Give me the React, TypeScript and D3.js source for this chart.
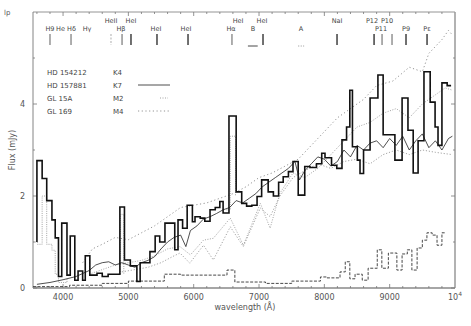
import React, { useEffect, useRef } from 'react';
import * as d3 from 'd3';

const W = 471;
const H = 326;

// HD 154212 (K4) - heavy step histogram: [bin start (A), flux (mJy)]
const k4Bins: [number, number][] = [
  [3600, 2.77], [3680, 2.38], [3750, 1.9], [3830, 1.48], [3880, 1.09], [3930, 0.25],
  [3980, 1.41], [4060, 0.28], [4110, 1.13], [4180, 0.17], [4230, 0.37], [4300, 0.17],
  [4340, 0.7], [4410, 0.28], [4520, 0.32], [4600, 0.25], [4690, 0.3], [4870, 1.76],
  [4940, 0.61], [5030, 0.48], [5130, 0.14], [5180, 0.55], [5330, 0.79], [5410, 1.13],
  [5480, 1.0], [5560, 1.41], [5710, 0.83], [5760, 1.48], [5830, 1.3], [5900, 1.8],
  [5980, 1.44], [6020, 1.55], [6100, 1.52], [6170, 1.45], [6250, 1.7], [6330, 1.75],
  [6400, 1.88], [6450, 1.63], [6540, 3.74], [6650, 2.09], [6735, 1.84], [6810, 1.78],
  [6890, 1.8], [6970, 1.99], [7040, 2.35], [7140, 2.09], [7220, 2.0], [7300, 2.3],
  [7370, 2.42], [7450, 2.53], [7520, 2.75], [7600, 2.02], [7700, 2.64], [7780, 2.62],
  [7880, 2.7], [7960, 2.93], [8010, 2.83], [8110, 2.67], [8190, 2.6], [8270, 3.22],
  [8340, 3.5], [8390, 4.3], [8430, 3.07], [8505, 2.78], [8546, 2.49], [8600, 3.0],
  [8700, 4.13], [8820, 4.63], [8900, 3.33], [9080, 2.78], [9190, 4.13], [9280, 3.43],
  [9360, 2.5], [9435, 3.2], [9525, 4.7], [9620, 4.04], [9695, 3.5], [9740, 3.1],
  [9800, 4.46], [9880, 4.4],
];
const k4End = 9940;

// second, fainter histogram (dotted) that shows inside the spikes
const grayBins: [number, number][] = [
  [3540, 1.0], [3610, 0.95], [3680, 2.0], [3750, 0.95], [3830, 0.82], [3880, 0.3],
  [3930, 0.12], [4060, 0.2], [4180, NaN],
  [4850, 0.3], [4880, 1.6], [4930, 0.3], [4980, NaN],
  [6500, 1.7], [6560, 3.3], [6640, 2.0], [6700, NaN],
];

// bottom dashed histogram
const lowBins: [number, number][] = [
  [3540, 0.03], [4100, 0.06], [4600, 0.1], [5000, 0.15], [5550, 0.3], [5800, 0.28],
  [6510, 0.39], [6630, 0.13], [7100, 0.1], [7500, 0.15], [7940, 0.24], [8040, 0.22],
  [8240, 0.35], [8320, 0.57], [8390, 0.2], [8470, 0.3], [8580, 0.17], [8670, 0.43],
  [8810, 0.83], [8880, 0.43], [8980, 0.76], [9110, 0.39], [9190, 0.74], [9270, 0.83],
  [9340, 0.39], [9420, 0.87], [9500, 1.04], [9570, 1.2], [9650, 1.15], [9725, 0.93],
  [9800, 1.2],
];
const lowEnd = 9850;

// HD 157881 (K7) - thin solid
const k7Line: [number, number][] = [
  [3600, 0.08], [3800, 0.12], [4000, 0.18], [4200, 0.25], [4400, 0.38], [4500, 0.5],
  [4600, 0.55], [4700, 0.57], [4800, 0.5], [4900, 0.55], [5000, 0.5], [5100, 0.45],
  [5200, 0.55], [5300, 0.6], [5400, 0.68], [5500, 0.85], [5600, 1.0], [5700, 1.1],
  [5800, 1.15], [5880, 0.9], [5950, 1.25], [6050, 1.35], [6150, 1.5], [6250, 1.55],
  [6350, 1.62], [6450, 1.7], [6550, 1.75], [6650, 1.9], [6750, 1.85], [6850, 1.95],
  [6950, 2.05], [7050, 2.2], [7150, 2.3], [7250, 2.4], [7350, 2.5], [7450, 2.6],
  [7550, 2.75], [7620, 2.35], [7700, 2.55], [7800, 2.7], [7900, 2.85], [8000, 2.8],
  [8100, 2.65], [8200, 2.75], [8300, 3.0], [8400, 2.85], [8500, 3.1], [8600, 3.0],
  [8700, 3.15], [8800, 3.2], [8900, 3.05], [9000, 3.25], [9100, 3.1], [9200, 3.3],
  [9300, 3.0], [9400, 3.2], [9500, 3.35], [9600, 3.05], [9700, 3.2], [9800, 3.0],
  [9900, 3.25], [9960, 3.3],
];

// GL 169 (M4) - spaced dots, steepest in the red
const m4Line: [number, number][] = [
  [4300, 0.55], [4450, 0.85], [4600, 0.95], [4800, 1.1], [5000, 1.05], [5200, 1.2],
  [5400, 1.35], [5600, 1.55], [5800, 1.75], [6000, 1.8], [6200, 1.85], [6400, 1.95],
  [6600, 2.05], [6800, 2.2], [7000, 2.4], [7200, 2.5], [7400, 2.65], [7600, 2.8],
  [7800, 3.1], [8000, 3.4], [8200, 3.7], [8400, 3.9], [8600, 4.1], [8800, 4.4],
  [9050, 4.5], [9300, 4.8], [9500, 4.7], [9600, 5.1], [9800, 5.4], [9900, 5.6],
  [9960, 5.5],
];

// GL 15A (M2) - fine dots, TiO bands
const m2Line: [number, number][] = [
  [4400, 0.3], [4600, 0.4], [4800, 0.5], [5000, 0.55], [5200, 0.6], [5400, 0.7],
  [5600, 0.85], [5790, 0.9], [5950, 0.72], [6150, 1.04], [6300, 1.08], [6560, 1.52],
  [6760, 0.93], [7020, 1.84], [7170, 1.3], [7320, 2.06], [7520, 2.5], [7700, 2.4],
  [7900, 2.6], [8100, 2.9], [8300, 3.2], [8500, 3.5], [8700, 3.6], [8900, 3.8],
  [9100, 3.9], [9300, 3.7], [9500, 4.0], [9700, 4.2], [9850, 4.35], [9960, 4.3],
];

// lower dotted curve, deepest bands
const m3Line: [number, number][] = [
  [4900, 0.35], [5100, 0.4], [5300, 0.45], [5500, 0.55], [5700, 0.7], [5790, 0.76],
  [5940, 0.54], [6150, 0.93], [6300, 0.61], [6560, 1.33], [6760, 0.9], [7020, 1.74],
  [7170, 1.55], [7320, 2.0], [7520, 2.4], [7700, 2.55], [7900, 2.7], [8100, 2.6],
  [8300, 2.75], [8500, 2.8], [8700, 2.7], [8900, 2.9], [9100, 3.0], [9300, 2.9],
  [9500, 3.0], [9700, 2.95], [9850, 2.92], [9960, 2.9],
];

// line identifications
const idText = ['H9', 'He Hδ', 'Hγ', 'HeII', 'Hβ', 'HeI', 'HeI', 'HeI', 'HeI', 'Hα', 'B', 'HeI', 'A', 'NaI', 'P12', 'P11', 'P10', 'P9', 'Pε'];
const idWave = [3800, 4045, 4367, 4734, 4887, 5040, 5423, 5882, 6679, 6571, 6908, 7046, 7643, 8194, 8730, 8867, 8959, 9250, 9572];
const idUpper = [false, false, false, true, false, true, false, false, true, false, false, true, false, true, true, false, true, false, false];
const markWave = [3800, 4122, 4734, 4903, 5040, 5438, 5913, 6586, 7061, 8194, 8761, 8883, 9036, 9250, 9572];
const markStyle = ['n', 'n', 'd', 'n', 'b', 'b', 'b', 'n', 'b', 'b', 'b', 'n', 'n', 'b', 'b'];

const legendName = ['HD 154212', 'HD 157881', 'GL 15A', 'GL 169'];
const legendType = ['K4', 'K7', 'M2', 'M4'];

const xTicks = [4000, 5000, 6000, 7000, 8000, 9000];
const yTicks = [0, 2, 4];

const FONT = 'DejaVu Sans, sans-serif';

const App = () => {
  const svgRef = useRef<SVGSVGElement>(null);

  useEffect(() => {
    const svg = d3.select(svgRef.current);
    svg.selectAll('*').remove();

    const x = d3.scaleLinear().domain([3540, 10000]).range([33, 455]);
    const y = d3.scaleLinear().domain([0, 6]).range([288, 12]);

    svg.append('rect').attr('width', W).attr('height', H).attr('fill', '#fff');

    // frame
    const frame = svg.append('g').attr('fill', 'none');
    frame.append('line').attr('x1', x(3540)).attr('x2', x(10000)).attr('y1', y(6)).attr('y2', y(6))
      .attr('stroke', '#888').attr('stroke-width', 0.9);
    frame.append('line').attr('x1', x(3540)).attr('x2', x(3540)).attr('y1', y(6)).attr('y2', y(0))
      .attr('stroke', '#777').attr('stroke-width', 0.9);
    frame.append('line').attr('x1', x(10000)).attr('x2', x(10000)).attr('y1', y(6)).attr('y2', y(0))
      .attr('stroke', '#999').attr('stroke-width', 1.5);
    frame.append('line').attr('x1', x(3540)).attr('x2', x(10000)).attr('y1', y(0)).attr('y2', y(0))
      .attr('stroke', '#888').attr('stroke-width', 1.6);

    // ticks
    const minor = d3.range(3600, 10000, 200);
    const tg = svg.append('g').attr('stroke', '#777').attr('stroke-width', 0.8);
    minor.forEach(w => {
      const major = w % 1000 === 0;
      const len = major ? 4 : 2;
      tg.append('line').attr('x1', x(w)).attr('x2', x(w)).attr('y1', y(0)).attr('y2', y(0) - len);
      tg.append('line').attr('x1', x(w)).attr('x2', x(w)).attr('y1', y(6)).attr('y2', y(6) + len);
    });
    d3.range(0, 6, 1).forEach(v => {
      const len = v % 2 === 0 ? 4 : 2;
      tg.append('line').attr('x1', x(3540)).attr('x2', x(3540) + len).attr('y1', y(v)).attr('y2', y(v));
      tg.append('line').attr('x1', x(10000)).attr('x2', x(10000) - len).attr('y1', y(v)).attr('y2', y(v));
    });

    const txt = svg.append('g').attr('font-family', FONT).attr('fill', '#555').attr('font-size', 8);
    xTicks.forEach(w => {
      txt.append('text').attr('x', x(w)).attr('y', y(0) + 12).attr('text-anchor', 'middle').text(String(w));
    });
    const t4 = txt.append('text').attr('x', x(10000)).attr('y', y(0) + 12).attr('text-anchor', 'middle');
    t4.append('tspan').text('10');
    t4.append('tspan').attr('dy', -4).attr('font-size', 6).text('4');
    yTicks.forEach(v => {
      txt.append('text').attr('x', 25).attr('y', y(v) + 3).attr('text-anchor', 'end').text(String(v));
    });
    txt.append('text').attr('x', 245).attr('y', 310).attr('text-anchor', 'middle').text('wavelength (Å)');
    txt.append('text').attr('transform', `translate(15,150) rotate(-90)`).attr('text-anchor', 'middle').text('Flux (mJy)');
    txt.append('text').attr('x', 4).attr('y', 15).attr('font-size', 7).text('lp');

    // line identifications
    const ids = svg.append('g').attr('font-family', FONT).attr('fill', '#444').attr('font-size', 6.5);
    idText.forEach((t, i) => {
      ids.append('text').attr('x', x(idWave[i])).attr('y', idUpper[i] ? 23 : 31)
        .attr('text-anchor', 'middle').text(t);
    });
    markWave.forEach((w, i) => {
      const s = markStyle[i];
      ids.append('line').attr('x1', x(w)).attr('x2', x(w)).attr('y1', 34).attr('y2', 45)
        .attr('stroke', s === 'd' ? '#999' : '#333')
        .attr('stroke-width', s === 'b' ? 1.4 : 0.8)
        .attr('stroke-dasharray', s === 'd' ? '2,1.5' : null);
    });
    ids.append('line').attr('x1', x(6830)).attr('x2', x(6980)).attr('y1', 46).attr('y2', 46)
      .attr('stroke', '#333').attr('stroke-width', 0.9);
    ids.append('line').attr('x1', x(7600)).attr('x2', x(7690)).attr('y1', 46).attr('y2', 46)
      .attr('stroke', '#777').attr('stroke-width', 0.8).attr('stroke-dasharray', '1,1.5');

    // spectra
    const step = d3.line<[number, number]>()
      .defined(d => !isNaN(d[1]))
      .x(d => x(d[0])).y(d => y(d[1]))
      .curve(d3.curveStepAfter);
    const smooth = d3.line<[number, number]>()
      .x(d => x(d[0])).y(d => y(d[1]))
      .curve(d3.curveLinear);

    const plot = svg.append('g').attr('fill', 'none');

    plot.append('path').attr('d', smooth(m3Line))
      .attr('stroke', '#999').attr('stroke-width', 0.9).attr('stroke-dasharray', '1.2,1.8');
    plot.append('path').attr('d', smooth(m2Line))
      .attr('stroke', '#999').attr('stroke-width', 0.9).attr('stroke-dasharray', '1,1.5');
    plot.append('path').attr('d', smooth(m4Line))
      .attr('stroke', '#888').attr('stroke-width', 0.9).attr('stroke-dasharray', '1.2,2.5');

    plot.append('path').attr('d', step(grayBins))
      .attr('stroke', '#999').attr('stroke-width', 0.9).attr('stroke-dasharray', '1,1.2');
    plot.append('path').attr('d', step(lowBins.concat([[lowEnd, lowBins[lowBins.length - 1][1]]])))
      .attr('stroke', '#333').attr('stroke-width', 0.9).attr('stroke-dasharray', '3,1.5');

    plot.append('path').attr('d', smooth(k7Line))
      .attr('stroke', '#222').attr('stroke-width', 0.8);

    const k4 = ([[3600, 1.0]] as [number, number][]).concat(k4Bins, [[k4End, k4Bins[k4Bins.length - 1][1]]]);
    plot.append('path').attr('d', step(k4))
      .attr('stroke', '#111').attr('stroke-width', 1.6).attr('stroke-linejoin', 'miter');

    // legend
    const lg = svg.append('g').attr('font-family', FONT).attr('fill', '#444').attr('font-size', 7);
    legendName.forEach((n, i) => {
      const yy = 72 + i * 13;
      lg.append('text').attr('x', 47).attr('y', yy + 2.5).text(n);
      lg.append('text').attr('x', 113).attr('y', yy + 2.5).text(legendType[i]);
    });
    lg.append('line').attr('x1', 138).attr('x2', 170).attr('y1', 85).attr('y2', 85)
      .attr('stroke', '#222').attr('stroke-width', 0.8);
    lg.append('line').attr('x1', 160).attr('x2', 168).attr('y1', 98).attr('y2', 98)
      .attr('stroke', '#999').attr('stroke-width', 0.9).attr('stroke-dasharray', '1,1.5');
    lg.append('line').attr('x1', 138).attr('x2', 170).attr('y1', 111).attr('y2', 111)
      .attr('stroke', '#888').attr('stroke-width', 0.9).attr('stroke-dasharray', '1.2,2.5');
  }, []);

  return (
    <svg ref={svgRef} width={W} height={H} viewBox={`0 0 ${W} ${H}`}
      style={{ position: 'absolute', left: 0, top: 0, display: 'block' }} />
  );
};

export default App;
